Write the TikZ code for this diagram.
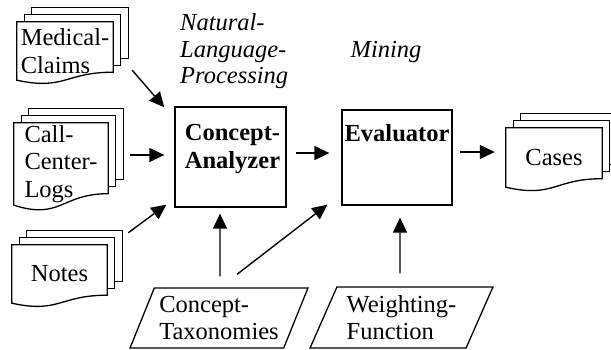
\documentclass[tikz,border=0pt]{standalone}
\usepackage{fontspec}
\setmainfont{Liberation Serif}
\usetikzlibrary{shapes.geometric, arrows.meta, calc, backgrounds}
\tikzstyle{arrow} = [line width=1.4pt,-{Triangle[length=15pt,width=14pt]}]
\tikzstyle{docline} = [line width=1.3pt, fill=white, line join=miter]
\newcommand{\figfont}{\fontsize{24.5}{27.5}\selectfont}
% stack of three pages behind a document node: #1 node, #2 rise of the wave
\newcommand{\docstack}[2]{%
  \foreach \k in {2,1}
    \draw[docline] ([shift={(\k*7.5,-\k*7)}]#1.north west) rectangle ([shift={(\k*7.5,-\k*7-#2)}]#1.south east);
  \draw[docline] (#1.north west) -- (#1.north east) -- ([shift={(0,-#2)}]#1.south east)
    .. controls ($(#1.south)+(0,-#2)$) and ($(#1.south)+(0,1.3*#2)$) .. (#1.south west) -- cycle;
}

\begin{document}
\begin{tikzpicture}[x=1pt, y=-1pt, font=\figfont,
  docnode/.style={rectangle, align=left, inner sep=0pt},
  procbox/.style={rectangle, draw, line width=1.3pt, inner sep=0pt},
  datashape/.style={trapezium, trapezium left angle=63, trapezium right angle=117,
    trapezium stretches=true, draw, line width=1.3pt, align=left, inner sep=0pt}]
        \useasboundingbox (0,0) rectangle (611,349);

        % Documents
        \node[docnode, minimum width=96pt, minimum height=58pt] (med) at (65,51) {Medical-\\Claims};
        \node[docnode, minimum width=94pt, minimum height=82pt] (call) at (61,164) {Call-\\Center-\\Logs};
        \node[docnode, minimum width=95pt, minimum height=58pt] (notes) at (59.5,274) {Notes};
        \node[docnode, minimum width=96pt, minimum height=59pt] (cases) at (554,157.5) {Cases};
        \begin{scope}[on background layer]
          \docstack{med}{8}
          \docstack{call}{11.5}
          \docstack{notes}{8}
          \docstack{cases}{8.5}
        \end{scope}

        % Processing boxes
        \node[procbox, minimum width=111pt, minimum height=100pt] (ca) at (230.5,157) {};
        \node[font=\figfont\bfseries, align=center] (ca-label) at ([shift={(2,-8)}]ca.center) {Concept-\\Analyzer};
        \node[procbox, minimum width=110pt, minimum height=95pt] (eval) at (397,157.5) {};
        \node[font=\figfont\bfseries] (eval-label) at ([shift={(0,-24.5)}]eval.center) {Evaluator};

        % Inputs
        \node[datashape, minimum width=178pt, minimum height=60pt] (tax) at (219,318) {Concept-\\Taxonomies};
        \node[datashape, minimum width=183pt, minimum height=61pt] (wf) at (401.5,317.5) {Weighting-\\Function};

        % Phase labels
        \node[font=\fontsize{24.5}{26.5}\selectfont\itshape, align=left, anchor=west, inner sep=0pt] (nlp) at (180,51.5) {Natural-\\Language-\\Processing};
        \node[font=\figfont\itshape] (mining) at (386,52) {Mining};

        \draw[arrow] ([shift={(19,-10)}]med.south east) -- ([shift={(-10,1)}]ca.north west);
        \draw[arrow] ([shift={(22,-9)}]call.east) -- ([shift={(-10,-2)}]ca.west);
        \draw[arrow] ([shift={(21,-12)}]notes.north east) -- ([shift={(-8,-3)}]ca.south west);
        \draw[arrow] ([shift={(9,-4)}]ca.east) -- ([shift={(-12,-4.5)}]eval.west);
        \draw[arrow] ([shift={(7,-5.5)}]eval.east) -- ([shift={(-11,-5.5)}]cases.west);
        \draw[arrow] ([shift={(1,-11)}]tax.north) -- ([shift={(-10.5,6)}]ca.south);
        \draw[arrow] ([shift={(18,-13)}]tax.north) -- ([shift={(-14,-1)}]eval.south west);
        \draw[arrow] ([shift={(-1.5,-13)}]wf.north) -- ([shift={(3,12)}]eval.south);
\end{tikzpicture}
\end{document}
